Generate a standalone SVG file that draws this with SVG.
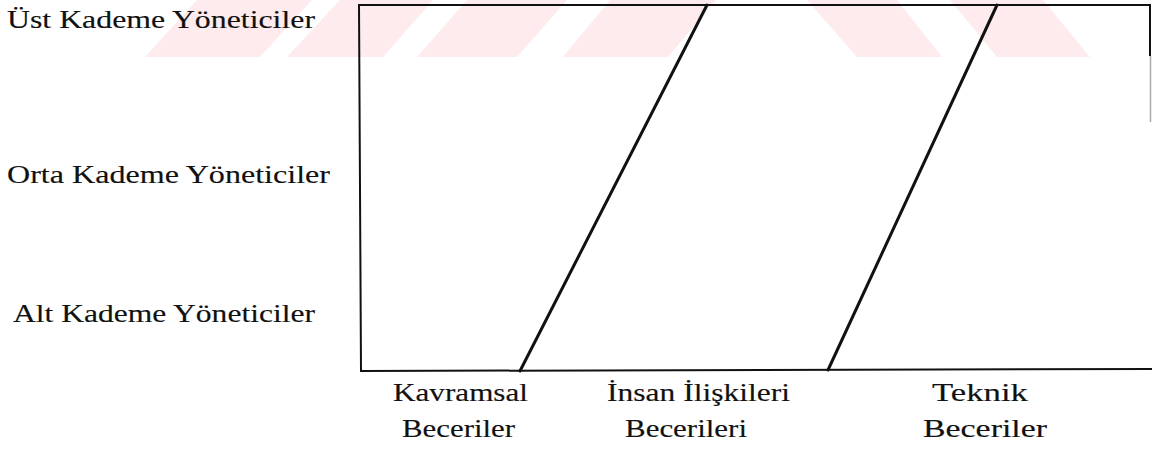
<svg xmlns="http://www.w3.org/2000/svg" width="1152" height="454" viewBox="0 0 1152 454">
  <style>
    .lbl { font-family: "Liberation Serif", "Times New Roman", serif; font-size: 25.5px; fill: #111; stroke: #111; stroke-width: 0.15; }
    .frame { fill: none; stroke: #111; stroke-width: 2; stroke-linecap: square; }
    .div { fill: none; stroke: #111; stroke-width: 3; stroke-linecap: round; }
    .wm { fill: #fdebee; stroke: none; }
  </style>
  <rect width="1152" height="454" fill="#ffffff"/>
  <g id="watermark">
    <polygon class="wm" points="145,57 260,57 312,0 197,0"/>
    <polygon class="wm" points="287,57 383,57 433,0 340,0"/>
    <polygon class="wm" points="417,57 517,57 567,0 467,0"/>
    <polygon class="wm" points="563,57 668,57 716,0 610,0"/>
    <polygon class="wm" points="807,0 897,0 942,57 857,57"/>
    <polygon class="wm" points="950,0 1043,0 1090,57 997,57"/>
  </g>
  <g id="frame">
    <polyline class="frame" points="359,5 1150,5"/>
    <line class="frame" x1="359" y1="5" x2="361" y2="371"/>
    <line class="frame" x1="361" y1="371" x2="1152" y2="369"/>
    <line class="frame" x1="1150" y1="5" x2="1150" y2="55"/>
    <line x1="1150.5" y1="56" x2="1150.5" y2="122" stroke="#aaa" stroke-width="1.5"/>
  </g>
  <g id="connectors">
    <line class="div" x1="707" y1="5" x2="520" y2="371"/>
    <line class="div" x1="997" y1="5" x2="828" y2="370"/>
  </g>
  <g id="row-ust">
    <text class="lbl" x="7" y="28" textLength="308" lengthAdjust="spacingAndGlyphs">Üst Kademe Yöneticiler</text>
  </g>
  <g id="row-orta">
    <text class="lbl" x="7" y="183" textLength="323" lengthAdjust="spacingAndGlyphs">Orta Kademe Yöneticiler</text>
  </g>
  <g id="row-alt">
    <text class="lbl" x="13" y="322" textLength="302" lengthAdjust="spacingAndGlyphs">Alt Kademe Yöneticiler</text>
  </g>
  <g id="col-kavramsal">
    <text class="lbl" x="393" y="401" textLength="135" lengthAdjust="spacingAndGlyphs">Kavramsal</text>
    <text class="lbl" x="402" y="437" textLength="113" lengthAdjust="spacingAndGlyphs">Beceriler</text>
  </g>
  <g id="col-insan">
    <text class="lbl" x="607" y="401" textLength="183" lengthAdjust="spacingAndGlyphs">İnsan İlişkileri</text>
    <text class="lbl" x="625" y="437" textLength="122" lengthAdjust="spacingAndGlyphs">Becerileri</text>
  </g>
  <g id="col-teknik">
    <text class="lbl" x="932" y="401" textLength="96" lengthAdjust="spacingAndGlyphs">Teknik</text>
    <text class="lbl" x="923" y="437" textLength="124" lengthAdjust="spacingAndGlyphs">Beceriler</text>
  </g>
</svg>
